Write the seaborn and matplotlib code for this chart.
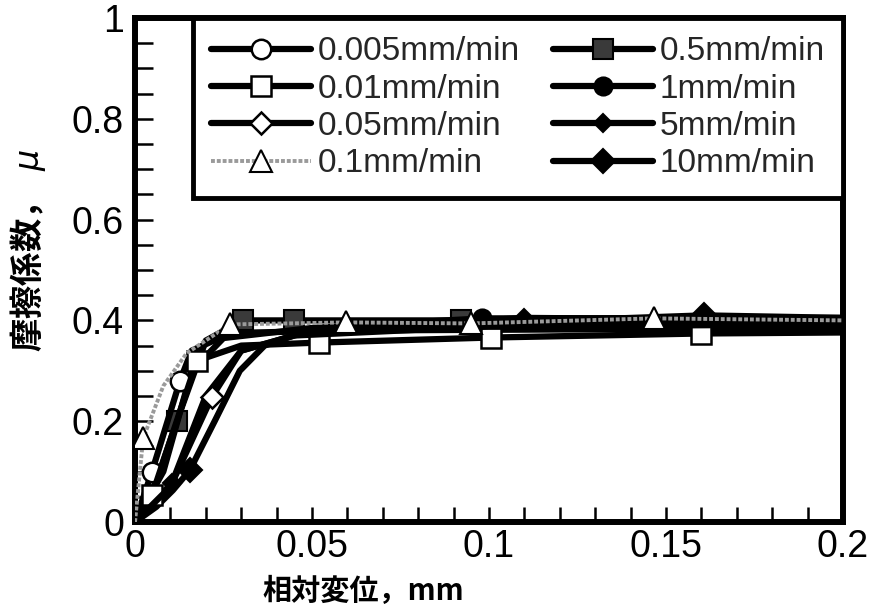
import matplotlib
matplotlib.use("Agg")
import matplotlib.pyplot as plt
import seaborn as sns
import pandas as pd
from matplotlib.lines import Line2D
from matplotlib.ticker import MultipleLocator

sns.set_theme(style="white")
plt.rcParams['font.family'] = ['Liberation Sans', 'Noto Sans CJK JP', 'DejaVu Sans']

# ---- data (relative displacement mm, friction coefficient mu) ----
labels = ["0.005mm/min", "0.01mm/min", "0.05mm/min", "0.1mm/min",
          "0.5mm/min", "1mm/min", "5mm/min", "10mm/min"]

x_0005 = [0, 0.0048, 0.0127, 0.016, 0.027, 0.06, 0.12, 0.2]
y_0005 = [0, 0.10, 0.28, 0.34, 0.375, 0.38, 0.382, 0.384]
m_0005 = [1, 2]

x_001 = [0, 0.0048, 0.0175, 0.03, 0.052, 0.1006, 0.16, 0.2]
y_001 = [0, 0.053, 0.32, 0.35, 0.356, 0.366, 0.374, 0.376]
m_001 = [1, 2, 4, 5, 6]

x_005 = [0, 0.01, 0.0217, 0.03, 0.045, 0.1, 0.2]
y_005 = [0, 0.07, 0.248, 0.34, 0.37, 0.388, 0.392]
m_005 = [2]

x_01 = [0, 0.0023, 0.008, 0.0146, 0.0268, 0.0597, 0.095, 0.1465, 0.2]
y_01 = [0, 0.166, 0.27, 0.335, 0.392, 0.396, 0.394, 0.404, 0.40]
m_01 = [1, 4, 5, 6, 7]

x_05 = [0, 0.006, 0.0118, 0.02, 0.0304, 0.045, 0.092, 0.2]
y_05 = [0, 0.08, 0.20, 0.36, 0.40, 0.40, 0.40, 0.40]
m_05 = [2, 4, 5, 6]

x_1 = [0, 0.008, 0.016, 0.025, 0.05, 0.098, 0.2]
y_1 = [0, 0.10, 0.30, 0.365, 0.385, 0.404, 0.405]
m_1 = [5]

x_5 = [0, 0.0104, 0.02, 0.03, 0.05, 0.11, 0.2]
y_5 = [0, 0.077, 0.25, 0.34, 0.38, 0.405, 0.40]
m_5 = [1, 5]

x_10 = [0, 0.006, 0.0107, 0.0155, 0.0225, 0.0296, 0.0366, 0.0465, 0.08, 0.1606, 0.2]
y_10 = [0, 0.03, 0.063, 0.103, 0.20, 0.30, 0.35, 0.375, 0.39, 0.41, 0.405]
m_10 = [3, 9]

series = [
    (x_0005, y_0005, m_0005),
    (x_001, y_001, m_001),
    (x_005, y_005, m_005),
    (x_01, y_01, m_01),
    (x_05, y_05, m_05),
    (x_1, y_1, m_1),
    (x_5, y_5, m_5),
    (x_10, y_10, m_10),
]

LW = 4.5
styles = [
    dict(color="black", lw=LW, marker="o", ms=14, mfc="white", mec="black", mew=1.8, zorder=6),
    dict(color="black", lw=LW, marker="s", ms=14, mfc="white", mec="black", mew=1.8, zorder=6),
    dict(color="black", lw=LW, marker="D", ms=11, mfc="white", mec="black", mew=1.8, zorder=6),
    dict(color="#9a9a9a", lw=2.8, ls=(0, (1.0, 0.5)), marker="^", ms=16, mfc="white", mec="black", mew=1.5, zorder=7),
    dict(color="black", lw=LW, marker="s", ms=14, mfc="#3a3a3a", mec="black", mew=1.5, zorder=4),
    dict(color="black", lw=LW, marker="o", ms=13, mfc="black", mec="black", mew=1.5, zorder=4),
    dict(color="black", lw=LW, marker="D", ms=9, mfc="black", mec="black", mew=1.5, zorder=4),
    dict(color="black", lw=LW, marker="D", ms=12, mfc="black", mec="black", mew=1.5, zorder=4),
]

fig = plt.figure(figsize=(8.78, 6.15), dpi=100)
ax = fig.add_axes([135/878, 1 - 522/615, (843-135)/878, (522-18)/615])

for (xs, ys, mk), lab, st in zip(series, labels, styles):
    df = pd.DataFrame({"x": xs, "y": ys})
    sns.lineplot(data=df, x="x", y="y", ax=ax, sort=False, estimator=None,
                 markevery=mk, clip_on=True, legend=False, **st)

ax.set_xlim(0, 0.2)
ax.set_ylim(0, 1)
ax.xaxis.set_minor_locator(MultipleLocator(0.01))
ax.yaxis.set_minor_locator(MultipleLocator(0.05))
ax.set_xticks([0, 0.05, 0.1, 0.15, 0.2])
ax.set_xticklabels(["0", "0.05", "0.1", "0.15", "0.2"])
ax.set_yticks([0, 0.2, 0.4, 0.6, 0.8, 1.0])
ax.set_yticklabels(["0", "0.2", "0.4", "0.6", "0.8", "1"])

for t in ax.get_xticklabels() + ax.get_yticklabels():
    t.set_fontfamily(['Liberation Sans', 'DejaVu Sans'])
    t.set_fontsize(27)
    t.set_color("black")

ax.tick_params(axis="both", which="both", direction="in", color="black",
               bottom=True, left=True, top=False, right=False)
ax.tick_params(axis="x", which="major", length=11, width=1.8, pad=5)
ax.tick_params(axis="x", which="minor", length=11, width=1.8)
ax.tick_params(axis="y", which="major", length=13, width=1.8, pad=8)
ax.tick_params(axis="y", which="minor", length=13, width=1.8)

for sp in ax.spines.values():
    sp.set_visible(True)
    sp.set_color("black")
    sp.set_linewidth(4.3)

ax.set_xlabel("")
ax.set_ylabel("")
fig.text(363/878, 1 - 591/615, "相対変位，mm", ha="center", va="center",
         fontsize=21, fontweight="bold", family=['Noto Sans CJK JP', 'DejaVu Sans'], color="black")
fig.text(28/878, 1 - 250/615, "摩擦係数，  $\\mu$", ha="center", va="center", rotation=90,
         fontsize=24, fontweight="bold", family=['Noto Sans CJK JP', 'DejaVu Sans'], color="black")

handles = []
for st in styles:
    kw = dict(st)
    kw.pop("zorder", None)
    handles.append(Line2D([0], [0], **kw))

leg = ax.legend(handles, labels, ncol=2, loc="upper right",
                bbox_to_anchor=(0.082, 0.0, 0.918, 1.0), mode="expand",
                borderaxespad=0.0, handlelength=3.0,
                handletextpad=0.2, columnspacing=1.0, labelspacing=0.19,
                borderpad=0.55, fancybox=False, framealpha=1, numpoints=1,
                prop={'family': ['Liberation Sans', 'DejaVu Sans'], 'size': 24})
leg.get_frame().set_edgecolor("black")
leg.get_frame().set_linewidth(3.5)
leg.set_zorder(10)

fig.savefig("out.png", dpi=100, facecolor="white")
